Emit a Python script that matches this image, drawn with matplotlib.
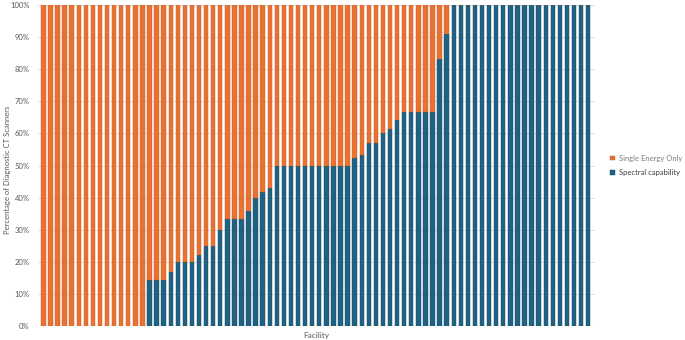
import numpy as np
import matplotlib
matplotlib.use("Agg")
import matplotlib.pyplot as plt

plt.rcParams['font.family'] = ['Lato', 'DejaVu Sans']

# Share of each facility's diagnostic CT scanners with spectral capability (%)
spectral = ([0] * 15 + [14.3] * 3 + [16.7] + [20] * 3 + [22.2] + [25] * 2 + [30]
            + [33.3] * 3 + [36, 40, 41.7, 42.9] + [50] * 11 + [52.4, 53.3]
            + [57.1] * 2 + [60, 61.5, 64.3] + [66.7] * 5 + [83.3, 90.9] + [100] * 20)
single = [100 - v for v in spectral]
facilities = np.arange(len(spectral))
yticks = [0, 10, 20, 30, 40, 50, 60, 70, 80, 90, 100]
ytick_labels = [f"{v}%" for v in yticks]

blue = "#1F6283"
orange = "#E97132"

fig = plt.figure(figsize=(6.85, 3.4), dpi=100)
ax = fig.add_axes([0.0555, 0.041, 0.813, 0.944])

b1 = ax.bar(facilities, spectral, width=0.62, color=blue, edgecolor="#174c66", linewidth=0.3,
            label="Spectral capability", zorder=3)
b2 = ax.bar(facilities, single, width=0.62, bottom=spectral, color=orange, edgecolor="#c95e28",
            linewidth=0.3, label="Single Energy Only", zorder=3)

ax.set_xlim(-0.75, 77.95)
ax.set_ylim(0, 100)
ax.set_yticks(yticks)
ax.set_yticklabels(ytick_labels)
ax.set_xticks([])
ax.tick_params(axis='y', length=0, labelsize=5.5, labelcolor="#595959", pad=6)
ax.grid(axis='y', color="#d9d9d9", linewidth=0.6, zorder=0)
for s in ax.spines.values():
    s.set_visible(False)
ax.axhline(0, color="#d9d9d9", linewidth=0.8, zorder=1)

# y label placed in figure coords so it stays inside the canvas
fig.text(8 / 685, 0.5, "Percentage of Diagnostic CT Scanners", rotation=90,
         ha="center", va="center", fontsize=5.5, color="#595959")
ax.set_xlabel("Facility", fontsize=6, color="#595959", labelpad=4)

leg = ax.legend(handles=[b2, b1], loc="center left", bbox_to_anchor=(1.015, 0.5),
                frameon=False, fontsize=5.5, handlelength=0.6, handleheight=0.6,
                handletextpad=0.5, labelspacing=1.0)
leg.get_texts()[0].set_color("#7f7f7f")
leg.get_texts()[1].set_color("#404040")

fig.savefig("out.png", dpi=100)
